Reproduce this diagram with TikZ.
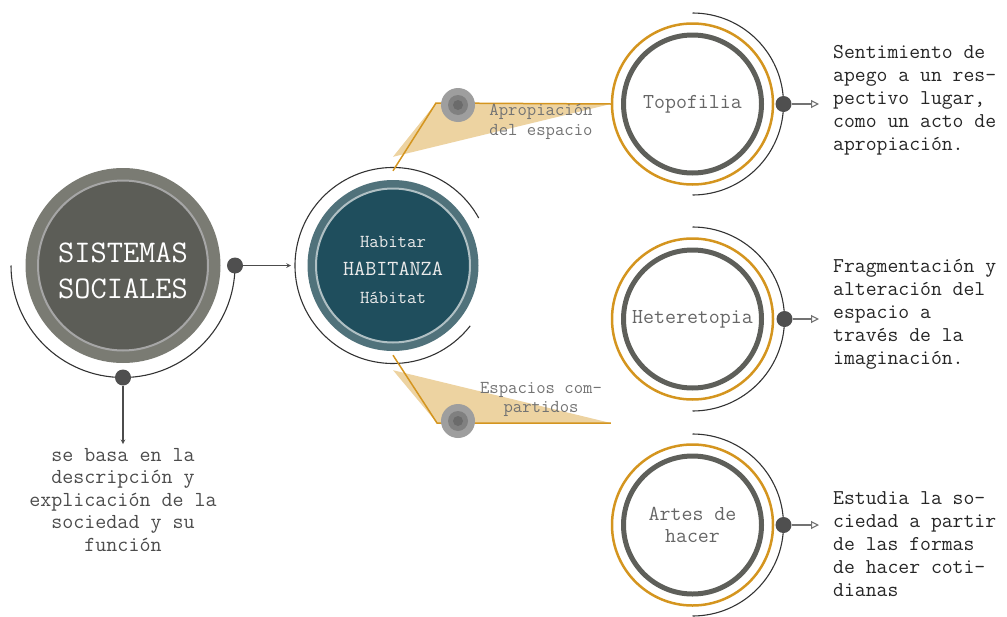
\documentclass[tikz,border=0pt]{standalone}
\usepackage{fontspec}
\usetikzlibrary{arrows,arrows.meta,positioning}
\definecolor{gold}{HTML}{D4951F}
\definecolor{sand}{HTML}{EDD3A1}
\definecolor{ringgray}{HTML}{5E5F5A}
\definecolor{jointgray}{HTML}{4F4F4F}
\definecolor{sisout}{HTML}{7A7B73}
\definecolor{sisin}{HTML}{5C5D57}
\definecolor{habout}{HTML}{50727B}
\definecolor{habin}{HTML}{1F4E5D}
\tikzset{
  joint/.style={circle, fill=jointgray, inner sep=0, minimum size=16},
  ring/.style={draw=black!80, line width=1.1},
  goldc/.style={circle, draw=gold, line width=2.5, minimum size=161, inner sep=0},
  grayc/.style={circle, draw=ringgray, line width=5, minimum size=138, inner sep=0, align=center,
    text=black!60, font=\ttfamily\fontsize{21.3}{21.7}\selectfont},
  desc/.style={anchor=west, align=left, inner sep=0, text=black!85, font=\ttfamily\fontsize{21.1}{23}\selectfont},
  lab/.style={align=center, inner sep=0, text=black!55, font=\ttfamily\fontsize{18.2}{19.5}\selectfont},
  knob/.style={circle, fill=black!38, minimum size=34, inner sep=0,
    path picture={\fill[black!50] (path picture bounding box.center) circle (10);
                  \fill[black!58] (path picture bounding box.center) circle (5);}},
  pointer/.style={->, >=stealth, draw=black!70, line width=1.1},
  openpointer/.style={-{Triangle[open, length=8, width=8]}, draw=black!55, line width=1.1}
}

\begin{document}
\begin{tikzpicture}[x=1pt, y=1pt]
  \useasboundingbox (0,0) rectangle (1007,-616);

  % sistemas sociales
  \node[circle, fill=sisout, minimum size=195] (sis) at (123,-265.5) {};
  \node[circle, fill=sisin, draw=black!35, line width=2, minimum size=170] (sisin) at (sis) {};
  \node[align=center, inner sep=0, text=white, font=\ttfamily\fontsize{31.5}{36}\selectfont]
    (sistxt) at ([yshift=-5]sis.center) {SISTEMAS\\SOCIALES};
  \draw[ring] ([shift={(180:112)}]sis.center) arc[start angle=180, end angle=360, radius=112];
  \node[joint] (sisr) at ([shift={(0:112)}]sis.center) {};
  \node[joint] (sisb) at ([shift={(270:112)}]sis.center) {};
  \node[align=center, inner sep=0, text=black!70, font=\ttfamily\fontsize{21.4}{22.5}\selectfont]
    (sisd) at (123,-500) {se basa en la\\descripción y\\explicación de la\\sociedad y su\\función};
  \draw[pointer, shorten >=4] (sisb) -- (sisb |- sisd.north);

  % habitanza
  \node[circle, fill=habout, minimum size=171] (hab) at (393,-265.5) {};
  \node[circle, fill=habin, draw=white!55!habout, line width=2, minimum size=154] (habin) at (hab) {};
  \node[align=center, inner sep=0, text=white!92!black, font=\ttfamily\fontsize{18.3}{28}\selectfont]
    (habtxt) at ([yshift=-4]hab.center) {Habitar\\{\fontsize{21.5}{28}\selectfont HABITANZA}\\Hábitat};
  \draw[ring] ([shift={(29:98)}]hab.center) arc[start angle=29, end angle=322, radius=98];
  \coordinate (habw) at ([shift={(180:98)}]hab.center);
  \draw[pointer, shorten >=4] (sisr) -- (habw);

  % right circles
  \node[goldc] (topo) at (692.5,-104) {};
  \node[grayc] (topoin) at (topo) {Topofilia};
  \node[goldc] (hete) at (692.5,-319) {};
  \node[grayc] (hetein) at (hete) {Heteretopia};
  \node[goldc] (artes) at (692.5,-525) {};
  \node[grayc] (artesin) at (artes) {Artes de\\hacer};
  \draw[ring] ([shift={(90:91)}]topo.center) arc[start angle=90, end angle=-90, radius=91];
  \draw[ring] ([shift={(90:92)}]hete.center) arc[start angle=90, end angle=-90, radius=92];
  \draw[ring] ([shift={(90:91)}]artes.center) arc[start angle=90, end angle=-90, radius=91];
  \node[joint] (topoj) at ([shift={(0:91)}]topo.center) {};
  \node[joint] (hetej) at ([shift={(0:92)}]hete.center) {};
  \node[joint] (artesj) at ([shift={(0:91)}]artes.center) {};

  % gold connectors
  \coordinate (up) at (436,-103);
  \coordinate (down) at (437,-423);
  \fill[sand] ([yshift=23]hab.north) -- (up) -- (topo.west) -- cycle;
  \draw[gold, line width=1.5] ([yshift=9]hab.north) -- (up) -- (topo.west);
  \fill[sand] ([yshift=-19]hab.south) -- (down) -- (down -| hete.west) -- cycle;
  \draw[gold, line width=1.5] ([yshift=-4]hab.south) -- (down) -- (down -| hete.west);
  \node[knob] (k1) at (458,-105) {};
  \node[knob] (k2) at (458,-421) {};
  \node[lab] (aprop) at (541,-122) {Apropiación\\del espacio};
  \node[lab] (comp) at (541,-399.5) {Espacios com-\\partidos};

  % descriptions
  \node[desc] (topod) at (833,-100) {Sentimiento de\\apego a un res-\\pectivo lugar,\\como un acto de\\apropiación.};
  \node[desc] (heted) at (833,-314.5) {Fragmentación y\\alteración del\\espacio a\\través de la\\imaginación.};
  \node[desc] (artesd) at (833,-544) {Estudia la so-\\ciedad a partir\\de las formas\\de hacer coti-\\dianas};
  \draw[openpointer, shorten >=14] (topoj) -- (topoj -| topod.west);
  \draw[openpointer, shorten >=14] (hetej) -- (hetej -| heted.west);
  \draw[openpointer, shorten >=14] (artesj) -- (artesj -| artesd.west);
\end{tikzpicture}
\end{document}
